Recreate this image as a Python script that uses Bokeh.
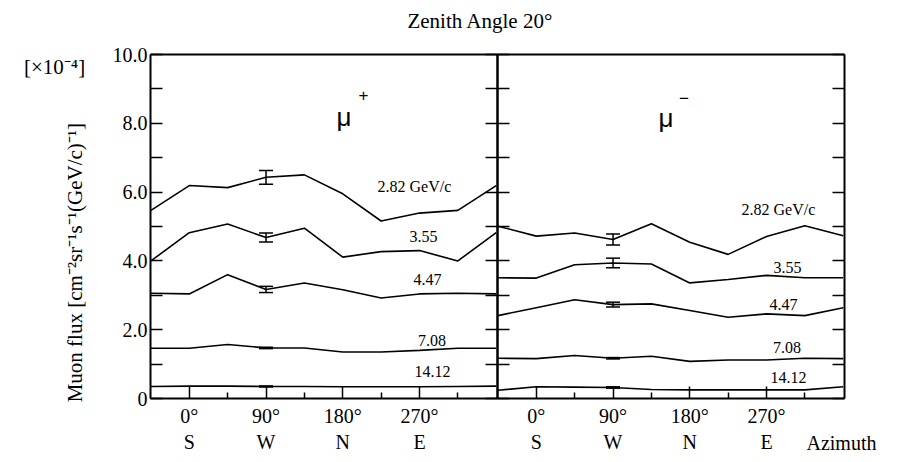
from bokeh.plotting import figure
from bokeh.models import LinearAxis, FixedTicker, Label, Whisker, TeeHead, ColumnDataSource, Range1d
from bokeh.embed import file_html
from bokeh.resources import INLINE
import math

# ---------------- data ----------------
azimuth = [-45, 0, 45, 90, 135, 180, 225, 270, 315, 360]
momenta = ["2.82 GeV/c", "3.55", "4.47", "7.08", "14.12"]

# mu+ (left panel), flux in units of 1e-4
plus_282 = [5.47, 6.19, 6.13, 6.43, 6.50, 5.95, 5.16, 5.39, 5.47, 6.19]
plus_355 = [4.00, 4.82, 5.07, 4.68, 4.95, 4.11, 4.27, 4.30, 4.00, 4.82]
plus_447 = [3.06, 3.04, 3.60, 3.17, 3.36, 3.16, 2.92, 3.04, 3.06, 3.04]
plus_708 = [1.46, 1.46, 1.57, 1.47, 1.47, 1.35, 1.35, 1.40, 1.46, 1.46]
plus_1412 = [0.35, 0.36, 0.36, 0.35, 0.35, 0.34, 0.34, 0.34, 0.35, 0.36]
plus_err90 = [0.20, 0.13, 0.09, 0.02, 0.015]

# mu- (right panel)
minus_282 = [5.01, 4.72, 4.81, 4.62, 5.08, 4.54, 4.19, 4.71, 5.02, 4.73]
minus_355 = [3.51, 3.50, 3.89, 3.94, 3.91, 3.36, 3.46, 3.58, 3.51, 3.51]
minus_447 = [2.41, 2.64, 2.87, 2.73, 2.75, 2.56, 2.36, 2.46, 2.41, 2.64]
minus_708 = [1.17, 1.16, 1.25, 1.17, 1.23, 1.08, 1.12, 1.12, 1.17, 1.16]
minus_1412 = [0.24, 0.34, 0.33, 0.32, 0.26, 0.25, 0.25, 0.25, 0.25, 0.34]
minus_err90 = [0.16, 0.14, 0.07, 0.02, 0.02]

y_ticks = [0, 2, 4, 6, 8, 10]
y_minor = [1, 3, 5, 7, 9]
y_tick_labels = ["0", "2.0", "4.0", "6.0", "8.0", "10.0"]
x_ticks = [0, 90, 180, 270]
x_minor = [45, 135, 225, 315]
x_tick_labels = ["0°\nS", "90°\nW", "180°\nN", "270°\nE"]

# ---------------- layout (pixels) ----------------
W, H = 900, 460
FRAME_L, MID, FRAME_R = 150, 497, 844
TOP, BOT = 54, 398
XLO, XHI = -45.5, 361.5
YLO, YHI = 0, 10
kx = (MID - FRAME_L) / (XHI - XLO)
ky = (BOT - TOP) / (YHI - YLO)

SERIF = "Liberation Serif"

p = figure(width=W, height=H, output_backend="svg", toolbar_location=None,
           x_axis_location=None, y_axis_location=None,
           x_range=Range1d(XLO - FRAME_L / kx, XLO + (W - FRAME_L) / kx),
           y_range=Range1d(YLO - (H - BOT) / ky, YHI + TOP / ky),
           min_border=0, min_border_left=0, min_border_right=0,
           min_border_top=0, min_border_bottom=0)
p.extra_x_ranges = {"right": Range1d(XLO - MID / kx, XLO + (W - MID) / kx)}
p.title.visible = False
p.xgrid.visible = False
p.ygrid.visible = False
p.outline_line_color = None
p.background_fill_color = "white"
p.border_fill_color = "white"


def base_axis(ax):
    ax.axis_line_width = 2
    ax.axis_line_color = "black"
    ax.major_tick_out = 0
    ax.minor_tick_out = 0
    ax.major_tick_line_width = 1.5
    ax.minor_tick_line_width = 1.5
    ax.major_tick_line_color = "black"
    ax.minor_tick_line_color = "black"
    ax.major_label_text_font = SERIF
    ax.major_label_text_font_size = "20px"
    ax.major_label_text_color = "black"


def add_panel_axes(rng, labelled_y):
    kw = {} if rng is None else {"x_range_name": rng}
    # left y axis
    ax = LinearAxis(fixed_location=XLO, bounds=(YLO, YHI), **kw)
    base_axis(ax)
    if labelled_y:
        ax.ticker = FixedTicker(ticks=y_ticks, minor_ticks=y_minor)
        ax.major_label_overrides = {t: l for t, l in zip(y_ticks, y_tick_labels)}
        ax.major_label_standoff = 3
    else:
        ax.ticker = FixedTicker(ticks=[], minor_ticks=sorted(y_ticks + y_minor))
    ax.major_tick_in = 12
    ax.minor_tick_in = 12
    p.add_layout(ax, "left")
    # right y axis (ticks only)
    ax = LinearAxis(fixed_location=XHI, bounds=(YLO, YHI), **kw)
    base_axis(ax)
    ax.ticker = FixedTicker(ticks=[], minor_ticks=sorted(y_ticks + y_minor))
    ax.minor_tick_in = 12
    p.add_layout(ax, "right")
    # bottom x axis
    ax = LinearAxis(fixed_location=YLO, bounds=(XLO, XHI), **kw)
    base_axis(ax)
    ax.ticker = FixedTicker(ticks=x_ticks, minor_ticks=x_minor)
    ax.major_label_overrides = {t: l for t, l in zip(x_ticks, x_tick_labels)}
    ax.major_tick_in = 12
    ax.minor_tick_in = 6
    ax.major_label_standoff = 6
    p.add_layout(ax, "below")
    # top border
    ax = LinearAxis(fixed_location=YHI, bounds=(XLO, XHI), **kw)
    base_axis(ax)
    ax.ticker = FixedTicker(ticks=[], minor_ticks=[])
    p.add_layout(ax, "above")


add_panel_axes(None, True)
add_panel_axes("right", False)


def draw_series(series, errs, label_pos, rng):
    kw = {} if rng is None else {"x_range_name": rng}
    i = azimuth.index(90)
    for s, e, txt, (lx, ly) in zip(series, errs, momenta, label_pos):
        p.line(azimuth, s, line_color="black", line_width=1.6, **kw)
        src = ColumnDataSource(dict(x=[90], up=[s[i] + e], lo=[s[i] - e]))
        p.add_layout(Whisker(base="x", upper="up", lower="lo", source=src,
                             line_color="black", line_width=1.5,
                             upper_head=TeeHead(size=14, line_width=1.5, line_color="black"),
                             lower_head=TeeHead(size=14, line_width=1.5, line_color="black"),
                             **kw))
        p.add_layout(Label(x=lx, y=ly, text=txt, text_font=SERIF, text_font_size="16px",
                           text_align="center", text_baseline="middle", text_color="black",
                           **kw))


left_pos = [(264, 6.16), (274.7, 4.71), (279.4, 3.47), (284.7, 1.70), (285.3, 0.78)]
right_pos = [(284, 5.48), (294.7, 3.82), (290, 2.73), (294.1, 1.48), (295.8, 0.60)]

draw_series([plus_282, plus_355, plus_447, plus_708, plus_1412], plus_err90, left_pos, None)
draw_series([minus_282, minus_355, minus_447, minus_708, minus_1412], minus_err90, right_pos, "right")

# particle labels
p.add_layout(Label(x=181.5, y=8.18, text="μ", text_font="Liberation Sans", text_font_size="26px",
                   text_align="center", text_baseline="alphabetic", text_color="black"))
p.add_layout(Label(x=204.3, y=8.81, text="+", text_font="Liberation Sans", text_font_size="17px",
                   text_align="center", text_baseline="middle", text_color="black"))
p.add_layout(Label(x=152.1, y=8.14, text="μ", text_font="Liberation Sans", text_font_size="26px",
                   text_align="center", text_baseline="alphabetic", text_color="black",
                   x_range_name="right"))
p.add_layout(Label(x=173.2, y=8.75, text="−", text_font="Liberation Sans", text_font_size="17px",
                   text_align="center", text_baseline="middle", text_color="black",
                   x_range_name="right"))

# title, y label, multiplier, azimuth
p.add_layout(Label(x=341.5, y=10.96, text="Zenith Angle 20°", text_font=SERIF, text_font_size="21px",
                   text_align="center", text_baseline="middle", text_color="black"))
p.add_layout(Label(x=-133.5, y=3.95, text="Muon flux [cm⁻²sr⁻¹s⁻¹(GeV/c)⁻¹]", angle=math.pi / 2,
                   text_font=SERIF, text_font_size="21px",
                   text_align="center", text_baseline="middle", text_color="black"))
p.add_layout(Label(x=-158, y=9.65, text="[×10⁻⁴]", text_font=SERIF, text_font_size="21px",
                   text_align="center", text_baseline="middle", text_color="black"))
p.add_layout(Label(x=316.9, y=-1.28, text="Azimuth", text_font=SERIF, text_font_size="20px",
                   text_align="left", text_baseline="middle", text_color="black",
                   x_range_name="right"))

open("out.html", "w").write(file_html(p, INLINE))
